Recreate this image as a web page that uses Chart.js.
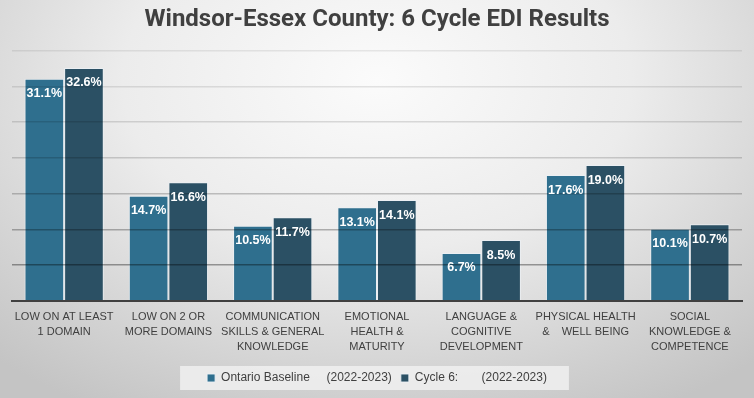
<!DOCTYPE html>
<html>
<head>
<meta charset="utf-8">
<script src="https://cdn.jsdelivr.net/npm/chart.js@4"></script>
<style>
  html, body { margin: 0; padding: 0; }
  body {
    width: 754px; height: 398px; overflow: hidden;
    background: radial-gradient(ellipse 75% 95% at 50% 20%, #fbfbfb 0%, #ececec 45%, #d2d2d2 80%, #c4c4c4 100%);
  }
  #wrap { width: 754px; height: 398px; position: relative; }
</style>
</head>
<body>
<div id="wrap"><canvas id="ediChart"></canvas></div>
<script>
const categories = [
  ['LOW ON AT LEAST', '1 DOMAIN'],
  ['LOW ON 2 OR', 'MORE DOMAINS'],
  ['COMMUNICATION', 'SKILLS & GENERAL', 'KNOWLEDGE'],
  ['EMOTIONAL', 'HEALTH &', 'MATURITY'],
  ['LANGUAGE &', 'COGNITIVE', 'DEVELOPMENT'],
  ['PHYSICAL HEALTH', '&    WELL BEING'],
  ['SOCIAL', 'KNOWLEDGE &', 'COMPETENCE']
];
const ontarioBaseline = [31.1, 14.7, 10.5, 13.1, 6.7, 17.6, 10.1];
const cycle6 = [32.6, 16.6, 11.7, 14.1, 8.5, 19.0, 10.7];
const seriesNames = ['Ontario Baseline     (2022-2023)', 'Cycle 6:       (2022-2023)'];

const textColor = '#404040';

// white % labels inside the top of each bar
const barLabels = {
  id: 'barLabels',
  afterDraw(chart) {
    const ctx = chart.ctx;
    ctx.save();
    ctx.font = 'bold 12.5px "Liberation Sans", Arial, sans-serif';
    ctx.fillStyle = '#ffffff';
    ctx.textAlign = 'center';
    ctx.textBaseline = 'middle';
    chart.data.datasets.forEach((ds, i) => {
      chart.getDatasetMeta(i).data.forEach((bar, j) => {
        ctx.fillText(ds.data[j].toFixed(1) + '%', bar.x, bar.y + 15);
      });
    });
    ctx.restore();
  }
};

// light panel behind the legend
const legendPanel = {
  id: 'legendPanel',
  beforeDraw(chart) {
    const boxes = chart.legend && chart.legend.legendHitBoxes;
    if (!boxes || !boxes.length) return;
    let l = Infinity, r = -Infinity, t = Infinity, b = -Infinity;
    boxes.forEach(h => {
      l = Math.min(l, h.left); r = Math.max(r, h.left + h.width);
      t = Math.min(t, h.top); b = Math.max(b, h.top + h.height);
    });
    const ctx = chart.ctx;
    ctx.save();
    ctx.fillStyle = 'rgba(240,240,240,0.85)';
    ctx.fillRect(l - 27, t - 6, (r - l) + 49, (b - t) + 12);
    ctx.restore();
  }
};

const gridAlpha = { 35: 0.08, 30: 0.1, 25: 0.13, 20: 0.16, 15: 0.21, 10: 0.28, 5: 0.36, 0: 0 };

new Chart(document.getElementById('ediChart'), {
  type: 'bar',
  data: {
    labels: categories,
    datasets: [{
      label: seriesNames[0],
      data: ontarioBaseline,
      backgroundColor: '#2f6f8e',
      borderColor: 'rgba(235,240,244,0.9)',
      borderWidth: 1
    }, {
      label: seriesNames[1],
      data: cycle6,
      backgroundColor: '#2b5064',
      borderColor: 'rgba(235,240,244,0.9)',
      borderWidth: 1
    }]
  },
  options: {
    responsive: true,
    maintainAspectRatio: false,
    animation: false,
    layout: { padding: { left: 12, right: 12, top: 0, bottom: 4 } },
    datasets: { bar: { categoryPercentage: 0.76, barPercentage: 1 } },
    plugins: {
      title: {
        display: true,
        text: 'Windsor-Essex County: 6 Cycle EDI Results',
        color: textColor,
        font: { family: 'Roboto', size: 24, weight: 'bold', lineHeight: 1.2 },
        padding: { top: 6, bottom: 16 }
      },
      legend: {
        position: 'bottom',
        labels: {
          color: textColor,
          font: { family: '"Liberation Sans", Arial, sans-serif', size: 12 },
          boxWidth: 8,
          boxHeight: 8,
          padding: 9
        }
      },
      tooltip: { enabled: false }
    },
    scales: {
      x: {
        grid: { display: false, drawTicks: false },
        border: { display: true, color: '#404040', width: 2 },
        ticks: {
          color: textColor,
          padding: 8,
          maxRotation: 0,
          autoSkip: false,
          font: { family: '"Liberation Sans", Arial, sans-serif', size: 11, lineHeight: 1.4 }
        }
      },
      y: {
        min: 0,
        max: 35,
        ticks: { display: false, stepSize: 5 },
        border: { display: false },
        grid: {
          drawTicks: false,
          lineWidth: 1.5,
          z: 1,
          color: c => 'rgba(0,0,0,' + (gridAlpha[c.tick.value] ?? 0.1) + ')'
        }
      }
    }
  },
  plugins: [legendPanel, barLabels]
});
</script>
</body>
</html>
